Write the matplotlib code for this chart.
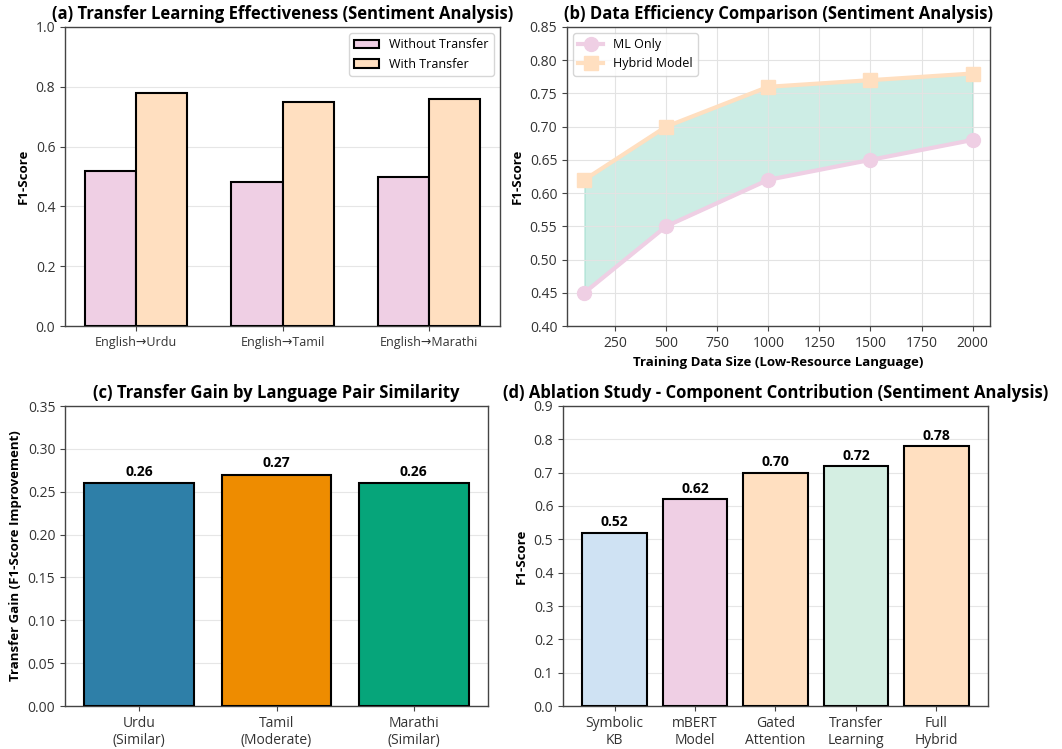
import matplotlib
matplotlib.use("Agg")
import matplotlib.pyplot as plt
import numpy as np

plt.rcParams['font.family'] = ['Open Sans', 'Noto Sans', 'DejaVu Sans']

# (a) transfer effectiveness
pairs = ['English→Urdu', 'English→Tamil', 'English→Marathi']
without_transfer = [0.52, 0.48, 0.50]
with_transfer = [0.78, 0.75, 0.76]

# (b) data efficiency
train_sizes = [100, 500, 1000, 1500, 2000]
ml_only = [0.45, 0.55, 0.62, 0.65, 0.68]
hybrid = [0.62, 0.70, 0.76, 0.77, 0.78]

# (c) transfer gain
gain_labels = ['Urdu\n(Similar)', 'Tamil\n(Moderate)', 'Marathi\n(Similar)']
gains = [0.26, 0.27, 0.26]

# (d) ablation
components = ['Symbolic\nKB', 'mBERT\nModel', 'Gated\nAttention', 'Transfer\nLearning', 'Full\nHybrid']
ablation = [0.52, 0.62, 0.70, 0.72, 0.78]

pink = '#EFCFE4'
peach = '#FFDFC0'
lblue = '#CFE2F3'
mint = '#D4EEE2'

fig = plt.figure(figsize=(10.62, 7.49), dpi=100)
ax1 = fig.add_axes([65/1062, 1-326/749, 435/1062, 299/749])
ax2 = fig.add_axes([567/1062, 1-326/749, 423/1062, 299/749])
ax3 = fig.add_axes([65/1062, 1-706/749, 423/1062, 300/749])
ax4 = fig.add_axes([563/1062, 1-706/749, 425/1062, 300/749])

for ax in [ax1, ax2, ax3, ax4]:
    for s in ax.spines.values():
        s.set_color('#444444')
        s.set_linewidth(1.0)
    ax.tick_params(labelsize=10, colors='#444444', labelcolor='#333333')

tfont = dict(fontsize=12, fontweight='bold')
lfont = dict(fontsize=9.5, fontweight='bold')

# (a)
x = np.arange(len(pairs))
w = 0.35
ax1.bar(x - w/2, without_transfer, w, color=pink, edgecolor='black', linewidth=1.5, label='Without Transfer', zorder=3)
ax1.bar(x + w/2, with_transfer, w, color=peach, edgecolor='black', linewidth=1.5, label='With Transfer', zorder=3)
ax1.set_xticks(x)
ax1.set_xticklabels(pairs, fontsize=9)
ax1.set_ylim(0, 1.0)
ax1.set_ylabel('F1-Score', **lfont)
ax1.set_title('(a) Transfer Learning Effectiveness (Sentiment Analysis)', **tfont)
ax1.yaxis.grid(True, color='#e6e6e6', linewidth=0.8, zorder=0)
ax1.legend(loc='upper right', fontsize=9)

# (b)
ax2.fill_between(train_sizes, ml_only, hybrid, color='#06A77D', alpha=0.2, zorder=1)
ax2.plot(train_sizes, ml_only, '-o', color=pink, linewidth=3, markersize=10, label='ML Only', zorder=3)
ax2.plot(train_sizes, hybrid, '-s', color=peach, linewidth=3, markersize=10, label='Hybrid Model', zorder=3)
ax2.set_ylim(0.40, 0.85)
ax2.set_xlim(15, 2085)
ax2.set_xticks([250, 500, 750, 1000, 1250, 1500, 1750, 2000])
ax2.set_ylabel('F1-Score', **lfont)
ax2.set_xlabel('Training Data Size (Low-Resource Language)', **lfont)
ax2.set_title('(b) Data Efficiency Comparison (Sentiment Analysis)', **tfont)
ax2.grid(True, color='#e3e3e3', linewidth=0.8, zorder=0)
ax2.legend(loc='upper left', fontsize=9)

# (c)
xc = np.arange(len(gain_labels))
bars = ax3.bar(xc, gains, 0.8, color=['#2E7FA8', '#EE8C00', '#06A57A'], edgecolor='black', linewidth=1.5, zorder=3)
for b, v in zip(bars, gains):
    ax3.text(b.get_x() + b.get_width()/2, v + 0.005, f'{v:.2f}', ha='center', va='bottom', fontsize=10, fontweight='bold')
ax3.set_xticks(xc)
ax3.set_xticklabels(gain_labels, fontsize=10)
ax3.set_ylim(0, 0.35)
ax3.set_ylabel('Transfer Gain (F1-Score Improvement)', **lfont)
ax3.set_title('(c) Transfer Gain by Language Pair Similarity', **tfont)
ax3.yaxis.grid(True, color='#e6e6e6', linewidth=0.8, zorder=0)

# (d)
xd = np.arange(len(components))
bars = ax4.bar(xd, ablation, 0.8, color=[lblue, pink, peach, mint, peach], edgecolor='black', linewidth=1.5, zorder=3)
for b, v in zip(bars, ablation):
    ax4.text(b.get_x() + b.get_width()/2, v + 0.01, f'{v:.2f}', ha='center', va='bottom', fontsize=10, fontweight='bold')
ax4.set_xticks(xd)
ax4.set_xticklabels(components, fontsize=10)
ax4.set_ylim(0, 0.9)
ax4.set_ylabel('F1-Score', **lfont)
ax4.set_title('(d) Ablation Study - Component Contribution (Sentiment Analysis)', **tfont)
ax4.yaxis.grid(True, color='#e6e6e6', linewidth=0.8, zorder=0)

fig.savefig('out.png', dpi=100)
